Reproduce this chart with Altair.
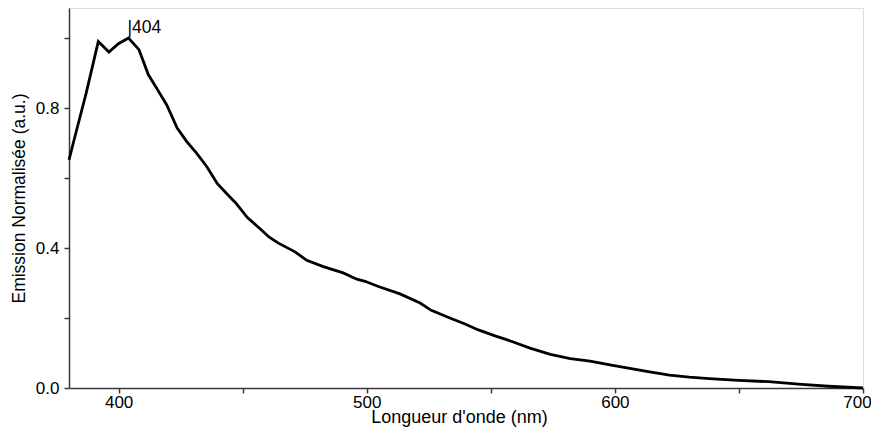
import altair as alt
import pandas as pd

wavelength = [380, 383.1, 386.9, 391.8, 396.1, 399.9, 404, 408.2, 412.0, 415.3,
              419.4, 423.6, 427.4, 431.4, 435.5, 439.8, 443.6, 447.2, 451.9, 457.0,
              460.7, 464.4, 471.1, 475.8, 482.5, 490.5, 496.0, 499.3, 504.7, 513.4,
              521.5, 526, 533.5, 539.6, 545, 551.7, 558.5, 565.8, 574, 582,
              590, 598, 606, 614, 622, 630, 638, 650, 662, 674, 686, 700]
emission = [0.652, 0.738, 0.842, 0.990, 0.960, 0.984, 1.0, 0.967, 0.895, 0.857,
            0.809, 0.743, 0.705, 0.671, 0.633, 0.584, 0.555, 0.529, 0.487, 0.455,
            0.431, 0.414, 0.389, 0.365, 0.347, 0.329, 0.311, 0.305, 0.290, 0.269,
            0.243, 0.222, 0.200, 0.183, 0.166, 0.149, 0.133, 0.114, 0.096, 0.084,
            0.077, 0.066, 0.056, 0.046, 0.037, 0.031, 0.027, 0.022, 0.018, 0.011,
            0.005, 0.0]

peak_x = [404]
peak_y = [1.0]
peak_label = ["|404"]

x_ticks = [400, 450, 500, 550, 600, 650, 700]
y_ticks = [0.0, 0.2, 0.4, 0.6, 0.8, 1.0]

df = pd.DataFrame({"wl": wavelength, "em": emission})
ann = pd.DataFrame({"wl": peak_x, "em": peak_y, "t": peak_label})

FONT = "Liberation Sans"

x_scale = alt.Scale(domain=[380, 700], nice=False, zero=False)
y_scale = alt.Scale(domain=[0, 1.086], nice=False)

x_axis = alt.Axis(
    values=x_ticks,
    labelExpr="datum.value % 100 == 0 ? datum.label : ''",
    title="Longueur d'onde (nm)",
    grid=False,
    domainColor="#3a3a3a", domainWidth=1.5,
    tickColor="#3a3a3a", tickWidth=1.5, tickSize=5,
    labelFont=FONT, labelFontSize=17, labelColor="#000", labelPadding=1,
    labelOffset={"condition": {"test": "datum.value == 700", "value": -6}, "value": 0},
    titleFont=FONT, titleFontSize=18, titleFontWeight="normal", titleColor="#000",
    titleX=390, titleY=34, titleAlign="center", titleBaseline="alphabetic",
    labelFlush=False,
)
y_axis = alt.Axis(
    values=y_ticks,
    labelExpr="(round(datum.value*10) % 4 == 0) ? format(datum.value, '.1f') : ''",
    title="Emission Normalisée (a.u.)",
    grid=False,
    domainColor="#3a3a3a", domainWidth=1.5,
    tickColor="#3a3a3a", tickWidth=1.5, tickSize=5,
    labelFont=FONT, labelFontSize=17, labelColor="#000", labelPadding=5,
    titleFont=FONT, titleFontSize=17.5, titleFontWeight="normal", titleColor="#000",
    titleX=-50, titleBaseline="middle",
    labelFlush=False,
)

line = alt.Chart(df).mark_line(color="black", strokeWidth=2.8, strokeJoin="miter").encode(
    x=alt.X("wl:Q", scale=x_scale, axis=x_axis),
    y=alt.Y("em:Q", scale=y_scale, axis=y_axis),
)

text = alt.Chart(ann).mark_text(
    align="left", baseline="alphabetic", dx=-1, dy=-5,
    font=FONT, fontSize=17.5, color="black",
).encode(
    x=alt.X("wl:Q", scale=x_scale),
    y=alt.Y("em:Q", scale=y_scale),
    text="t:N",
)

chart = (line + text).properties(
    width=794, height=380,
    autosize=alt.AutoSizeParams(type="none"),
    padding={"left": 61, "top": 0, "right": 8, "bottom": 39},
).configure_view(stroke="#222", strokeWidth=1.5).configure(background="white")

chart.save("out.html", embed_options={"renderer": "svg", "actions": False})
